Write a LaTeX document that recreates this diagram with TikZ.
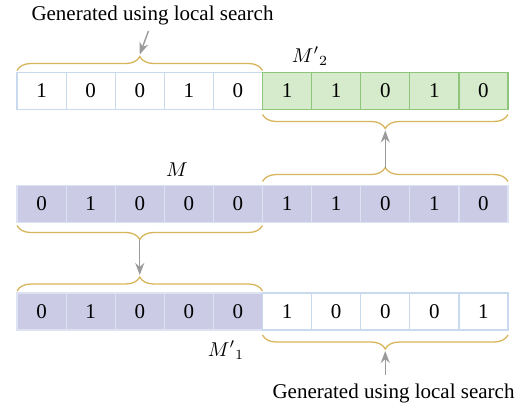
\documentclass[tikz,border=0pt]{standalone}
\usepackage{fontspec}
\setmainfont{Liberation Serif}
\usepackage{xcolor}
\definecolor{CellPurple}{HTML}{CBCBE6}
\definecolor{PurpleLine}{HTML}{DDE3F3}
\definecolor{CellGreen}{HTML}{D5EBCB}
\definecolor{GreenLine}{HTML}{8DC57B}
\definecolor{BlueLine}{HTML}{C9D9EE}
\definecolor{BraceGold}{HTML}{D7B55B}
\definecolor{ArrowGrey}{HTML}{9A9A9A}
\usepackage{tikz}
\usetikzlibrary{arrows.meta, positioning, calc, decorations.pathreplacing}
\tikzstyle{cell} = [rectangle, draw=BlueLine, fill=white, minimum width=24.55pt, minimum height=18.5pt, inner sep=0pt, outer sep=0pt, line width=0.6pt, font=\fontsize{10.5}{12}\selectfont]
\tikzstyle{mcell} = [cell, fill=CellPurple, draw=PurpleLine]
\tikzstyle{gcell} = [cell, fill=CellGreen, draw=GreenLine]
\tikzstyle{brace} = [draw=BraceGold, line width=0.65pt, decorate, decoration={brace, amplitude=7pt, raise=1pt}]
\tikzstyle{arrow} = [->, >={Stealth[length=6pt,width=4.5pt]}, color=ArrowGrey, line width=0.7pt]
\tikzstyle{gentext} = [inner sep=0pt, font=\fontsize{10.5}{12}\selectfont]

\begin{document}
\begin{tikzpicture}[x=0.5pt, y=-0.5pt]
        \useasboundingbox (0,0) rectangle (525,409);

        % --- offspring M'_2 ---
        \node [cell] (a1) at (41.55,91) {1};
        \node [cell, right=0pt of a1] (a2) {0};
        \node [cell, right=0pt of a2] (a3) {0};
        \node [cell, right=0pt of a3] (a4) {1};
        \node [cell, right=0pt of a4] (a5) {0};
        \node [gcell, right=0pt of a5] (a6) {1};
        \node [gcell, right=0pt of a6] (a7) {1};
        \node [gcell, right=0pt of a7] (a8) {0};
        \node [gcell, right=0pt of a8] (a9) {1};
        \node [gcell, right=0pt of a9] (a10) {0};

        % --- parent M ---
        \node [mcell] (b1) at (41.55,204) {0};
        \node [mcell, right=0pt of b1] (b2) {1};
        \node [mcell, right=0pt of b2] (b3) {0};
        \node [mcell, right=0pt of b3] (b4) {0};
        \node [mcell, right=0pt of b4] (b5) {0};
        \node [mcell, right=0pt of b5] (b6) {1};
        \node [mcell, right=0pt of b6] (b7) {1};
        \node [mcell, right=0pt of b7] (b8) {0};
        \node [mcell, right=0pt of b8] (b9) {1};
        \node [mcell, right=0pt of b9] (b10) {0};

        % --- offspring M'_1 ---
        \node [mcell] (c1) at (41.55,311.5) {0};
        \node [mcell, right=0pt of c1] (c2) {1};
        \node [mcell, right=0pt of c2] (c3) {0};
        \node [mcell, right=0pt of c3] (c4) {0};
        \node [mcell, right=0pt of c4] (c5) {0};
        \node [cell, right=0pt of c5] (c6) {1};
        \node [cell, right=0pt of c6] (c7) {0};
        \node [cell, right=0pt of c7] (c8) {0};
        \node [cell, right=0pt of c8] (c9) {0};
        \node [cell, right=0pt of c9] (c10) {1};

        % Labels
        \node (m2) at (310,56) {${M'}_{2}$};
        \node (m) at (177,170) {$M$};
        \node (m1) at (226,350) {${M'}_{1}$};
        \node [gentext] (gen1) at (152.5,15) {Generated using local search};
        \node [gentext] (gen2) at (393.5,393) {Generated using local search};

        % Braces
        \draw [brace] (a1.north west) -- node [coordinate, above=8pt] (ta) {} (a5.north east);
        \draw [brace, decoration={raise=2.5pt}] (a10.south east) -- node [coordinate, below=9.5pt] (tb) {} (a6.south west);
        \draw [brace, decoration={raise=2pt}] (b6.north west) -- node [coordinate, above=9pt] (tc) {} (b10.north east);
        \draw [brace, decoration={raise=1.5pt}] (b5.south east) -- node [coordinate, below=8.5pt] (td) {} (b1.south west);
        \draw [brace] (c1.north west) -- node [coordinate, above=8pt] (te) {} (c5.north east);
        \draw [brace, decoration={raise=2.5pt}] (c10.south east) -- node [coordinate, below=9.5pt] (tf) {} (c6.south west);

        % Connect
        \coordinate (gbot) at ([xshift=-2pt, yshift=-3pt]gen1.south);
        \coordinate (gtop) at ([yshift=4pt]gen2.north);
        \draw [arrow] (gbot) -- ([yshift=1pt]ta);
        \draw [arrow, shorten >=1pt] (tc) -- (tb);
        \draw [arrow, shorten >=1pt] (td) -- (te);
        \draw [arrow, shorten >=1pt] (gtop -| tf) -- (tf);
    \end{tikzpicture}
\end{document}
